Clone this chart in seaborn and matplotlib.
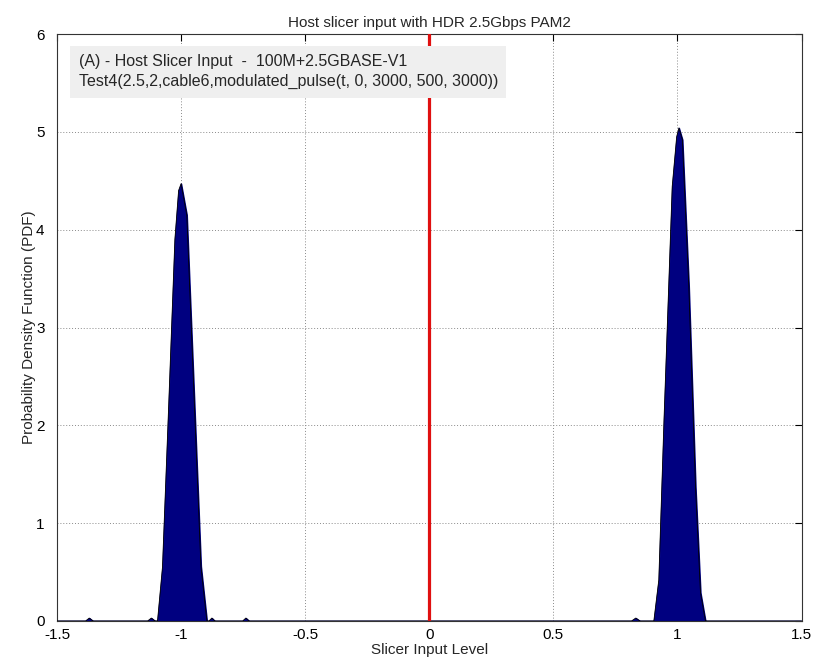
import numpy as np
import pandas as pd
import seaborn as sns
import matplotlib.pyplot as plt

# PDF of the slicer input
slicer_level = [-1.5, -1.385, -1.37, -1.355, -1.135, -1.12, -1.105, -1.095, -1.075,
                -1.05, -1.025, -1.01, -1.0, -0.977, -0.95, -0.935, -0.92, -0.896,
                -0.888, -0.876, -0.864, -0.752, -0.739, -0.726,
                0.815, 0.832, 0.849, 0.905, 0.925, 0.946, 0.979, 0.997, 1.006,
                1.02, 1.046, 1.073, 1.093, 1.113, 1.5]
pdf_value = [0, 0, 0.03, 0, 0, 0.03, 0, 0, 0.55,
             2.2, 3.9, 4.4, 4.47, 4.15, 2.45, 1.5, 0.56, 0,
             0, 0.03, 0, 0, 0.03, 0,
             0, 0.03, 0, 0, 0.42, 2.06, 4.44, 4.95, 5.04,
             4.92, 3.42, 1.37, 0.29, 0, 0]
threshold = 0.0

x_ticks = [-1.5, -1, -0.5, 0, 0.5, 1, 1.5]
x_tick_labels = ['-1.5', '-1', '-0.5', '0', '0.5', '1', '1.5']
y_ticks = [0, 1, 2, 3, 4, 5, 6]

df = pd.DataFrame({'level': slicer_level, 'pdf': pdf_value})

sns.set_style('white')
plt.rcParams['font.family'] = ['Liberation Sans', 'DejaVu Sans']

fig = plt.figure(figsize=(8.26, 6.67), dpi=100)
ax = fig.add_axes([57 / 826, 1 - 621 / 667, 744.5 / 826, 587 / 667])

# filled area like MATLAB area()
ax.fill_between(df['level'], df['pdf'], 0, color='#000080', zorder=2)
sns.lineplot(data=df, x='level', y='pdf', color='black', linewidth=0.6,
             ax=ax, zorder=3, estimator=None, sort=False)

ax.axvline(threshold, color='#e01010', linewidth=2.3, zorder=4)

ax.set_xlim(-1.5, 1.5)
ax.set_ylim(0, 6)
ax.set_xticks(x_ticks)
ax.set_xticklabels(x_tick_labels)
ax.set_yticks(y_ticks)
ax.grid(True, linestyle=(0, (1, 2)), color='#8a8a8a', linewidth=0.7)
ax.set_axisbelow(True)
ax.tick_params(axis='both', direction='in', length=5, width=0.8, top=True, right=True,
               labelsize=11, colors='black')
ax.tick_params(axis='y', pad=9)
ax.tick_params(axis='x', pad=5)
for s in ax.spines.values():
    s.set_color('#333333')
    s.set_linewidth(0.8)

ax.set_title('Host slicer input with HDR 2.5Gbps PAM2', fontsize=11, pad=5)
ax.set_xlabel('Slicer Input Level', fontsize=11, labelpad=1)
ax.set_ylabel('Probability Density Function (PDF)', fontsize=11, labelpad=0)

ax.text(0.029, 0.966,
        '(A) - Host Slicer Input  -  100M+2.5GBASE-V1\n'
        'Test4(2.5,2,cable6,modulated_pulse(t, 0, 3000, 500, 3000))',
        transform=ax.transAxes, fontsize=11.5, va='top', ha='left',
        linespacing=1.45, zorder=5,
        bbox=dict(facecolor='#efefef', edgecolor='none', pad=6))

plt.savefig('out.png', dpi=100)
